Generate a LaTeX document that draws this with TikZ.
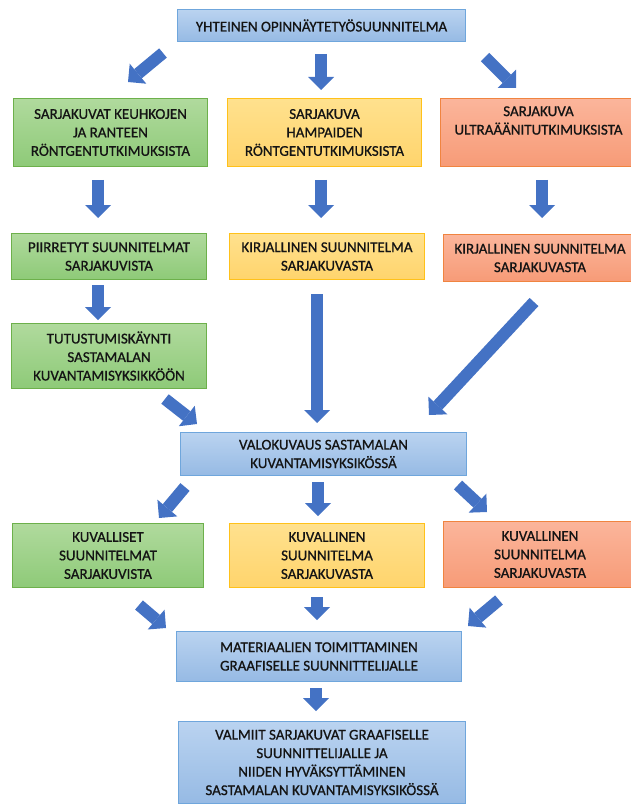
\documentclass[tikz,border=0pt]{standalone}
\usepackage{fontspec}
\setmainfont{Carlito}
\newfontfamily\boxfont{Carlito}[FakeBold=0.8]
\usetikzlibrary{arrows.meta,calc}
\definecolor{arrowblue}{HTML}{4472C4}
\definecolor{bluetop}{HTML}{BAD3F0}
\definecolor{bluebot}{HTML}{96BAE4}
\definecolor{blueline}{HTML}{6FA6DC}
\definecolor{greentop}{HTML}{B0DA9D}
\definecolor{greenbot}{HTML}{8ECA78}
\definecolor{greenline}{HTML}{6DB04B}
\definecolor{yellowtop}{HTML}{FFE18E}
\definecolor{yellowbot}{HTML}{FFD46C}
\definecolor{yellowline}{HTML}{FFC11A}
\definecolor{orangetop}{HTML}{FBB59B}
\definecolor{orangebot}{HTML}{F79B77}
\definecolor{orangeline}{HTML}{F08440}
\definecolor{txt}{HTML}{141414}
\begin{document}
\begin{tikzpicture}[x=1pt,y=-1pt,
  box/.style={rectangle, line width=1pt, align=center, inner sep=0pt,
    font=\boxfont\fontsize{15}{18.5}\selectfont, text=txt, anchor=north west},
  bluebox/.style={box, draw=blueline, top color=bluetop, bottom color=bluebot},
  greenbox/.style={box, draw=greenline, top color=greentop, bottom color=greenbot},
  yellowbox/.style={box, draw=yellowline, top color=yellowtop, bottom color=yellowbot},
  orangebox/.style={box, draw=orangeline, top color=orangetop, bottom color=orangebot},
  barrow/.style={draw=arrowblue, line width=12pt,
    -{Triangle[width=26pt,length=13pt,line width=0pt]}}]
\useasboundingbox (0,0) rectangle (630,805);

% boxes
\node[bluebox, minimum width=288pt, minimum height=32pt] (top) at (177,9)
  {YHTEINEN OPINNÄYTETYÖSUUNNITELMA};

\node[greenbox, minimum width=194pt, minimum height=68pt] (g1) at (13,98)
  {SARJAKUVAT KEUHKOJEN\\JA RANTEEN\\RÖNTGENTUTKIMUKSISTA};
\node[yellowbox, minimum width=194pt, minimum height=68pt] (y1) at (227,98)
  {SARJAKUVA\\HAMPAIDEN\\RÖNTGENTUTKIMUKSISTA};
\node[orangebox, minimum width=196pt, minimum height=68pt] (o1) at (440,98)
  {SARJAKUVA\\ULTRAÄÄNITUTKIMUKSISTA\\\strut};

\node[greenbox, minimum width=195pt, minimum height=46pt] (g2) at (11,233)
  {PIIRRETYT SUUNNITELMAT\\SARJAKUVISTA};
\node[yellowbox, minimum width=195pt, minimum height=46pt] (y2) at (229,233)
  {KIRJALLINEN SUUNNITELMA\\SARJAKUVASTA};
\node[orangebox, minimum width=193pt, minimum height=47pt] (o2) at (443,234)
  {KIRJALLINEN SUUNNITELMA\\SARJAKUVASTA};

\node[greenbox, minimum width=195pt, minimum height=65pt] (g3) at (11,323)
  {TUTUSTUMISKÄYNTI\\SASTAMALAN\\KUVANTAMISYKSIKKÖÖN};

\node[bluebox, minimum width=286pt, minimum height=43pt] (val) at (180,432)
  {VALOKUVAUS SASTAMALAN\\KUVANTAMISYKSIKÖSSÄ};

\node[greenbox, minimum width=191pt, minimum height=64pt] (g5) at (12,523)
  {KUVALLISET\\SUUNNITELMAT\\SARJAKUVISTA};
\node[yellowbox, minimum width=195pt, minimum height=64pt] (y5) at (229,523)
  {KUVALLINEN\\SUUNNITELMA\\SARJAKUVASTA};
\node[orangebox, minimum width=193pt, minimum height=66pt] (o5) at (443,521)
  {KUVALLINEN\\SUUNNITELMA\\SARJAKUVASTA};

\node[bluebox, minimum width=285pt, minimum height=50pt] (mat) at (176,631)
  {MATERIAALIEN TOIMITTAMINEN\\GRAAFISELLE SUUNNITTELIJALLE};

\node[bluebox, minimum width=287pt, minimum height=82pt] (vm) at (178,721)
  {VALMIIT SARJAKUVAT GRAAFISELLE\\SUUNNITTELIJALLE JA\\NIIDEN HYVÄKSYTTÄMINEN\\SASTAMALAN KUVANTAMISYKSIKÖSSÄ};

% arrow end points
\coordinate (a1s) at (163,53);  \coordinate (a1e) at (128,82);
\coordinate (a2s) at (321,54);  \coordinate (a2e) at (321,90);
\coordinate (a3s) at (485,57);  \coordinate (a3e) at (516,88);
\coordinate (a4s) at (98,180);  \coordinate (a4e) at (98,218);
\coordinate (a5s) at (321,180); \coordinate (a5e) at (321,218);
\coordinate (a6s) at (542,180); \coordinate (a6e) at (542,218);
\coordinate (a7s) at (98,285);  \coordinate (a7e) at (98,320);
\coordinate (a8s) at (165,399); \coordinate (a8e) at (197,424);
\coordinate (a9s) at (317,294); \coordinate (a9e) at (317,423);
\coordinate (a10s) at (534,302); \coordinate (a10e) at (429,415);
\coordinate (a11s) at (185,487); \coordinate (a11e) at (159,518);
\coordinate (a12s) at (318,482); \coordinate (a12e) at (318,516);
\coordinate (a13s) at (458,485); \coordinate (a13e) at (487,512);
\coordinate (a14s) at (139,605); \coordinate (a14e) at (166,628);
\coordinate (a15s) at (317,597); \coordinate (a15e) at (317,620);
\coordinate (a16s) at (499,600); \coordinate (a16e) at (468,626);
\coordinate (a17s) at (316,688); \coordinate (a17e) at (316,711);

\foreach \i in {1,...,17} {\draw[barrow] (a\i s) -- (a\i e);}
\end{tikzpicture}
\end{document}
